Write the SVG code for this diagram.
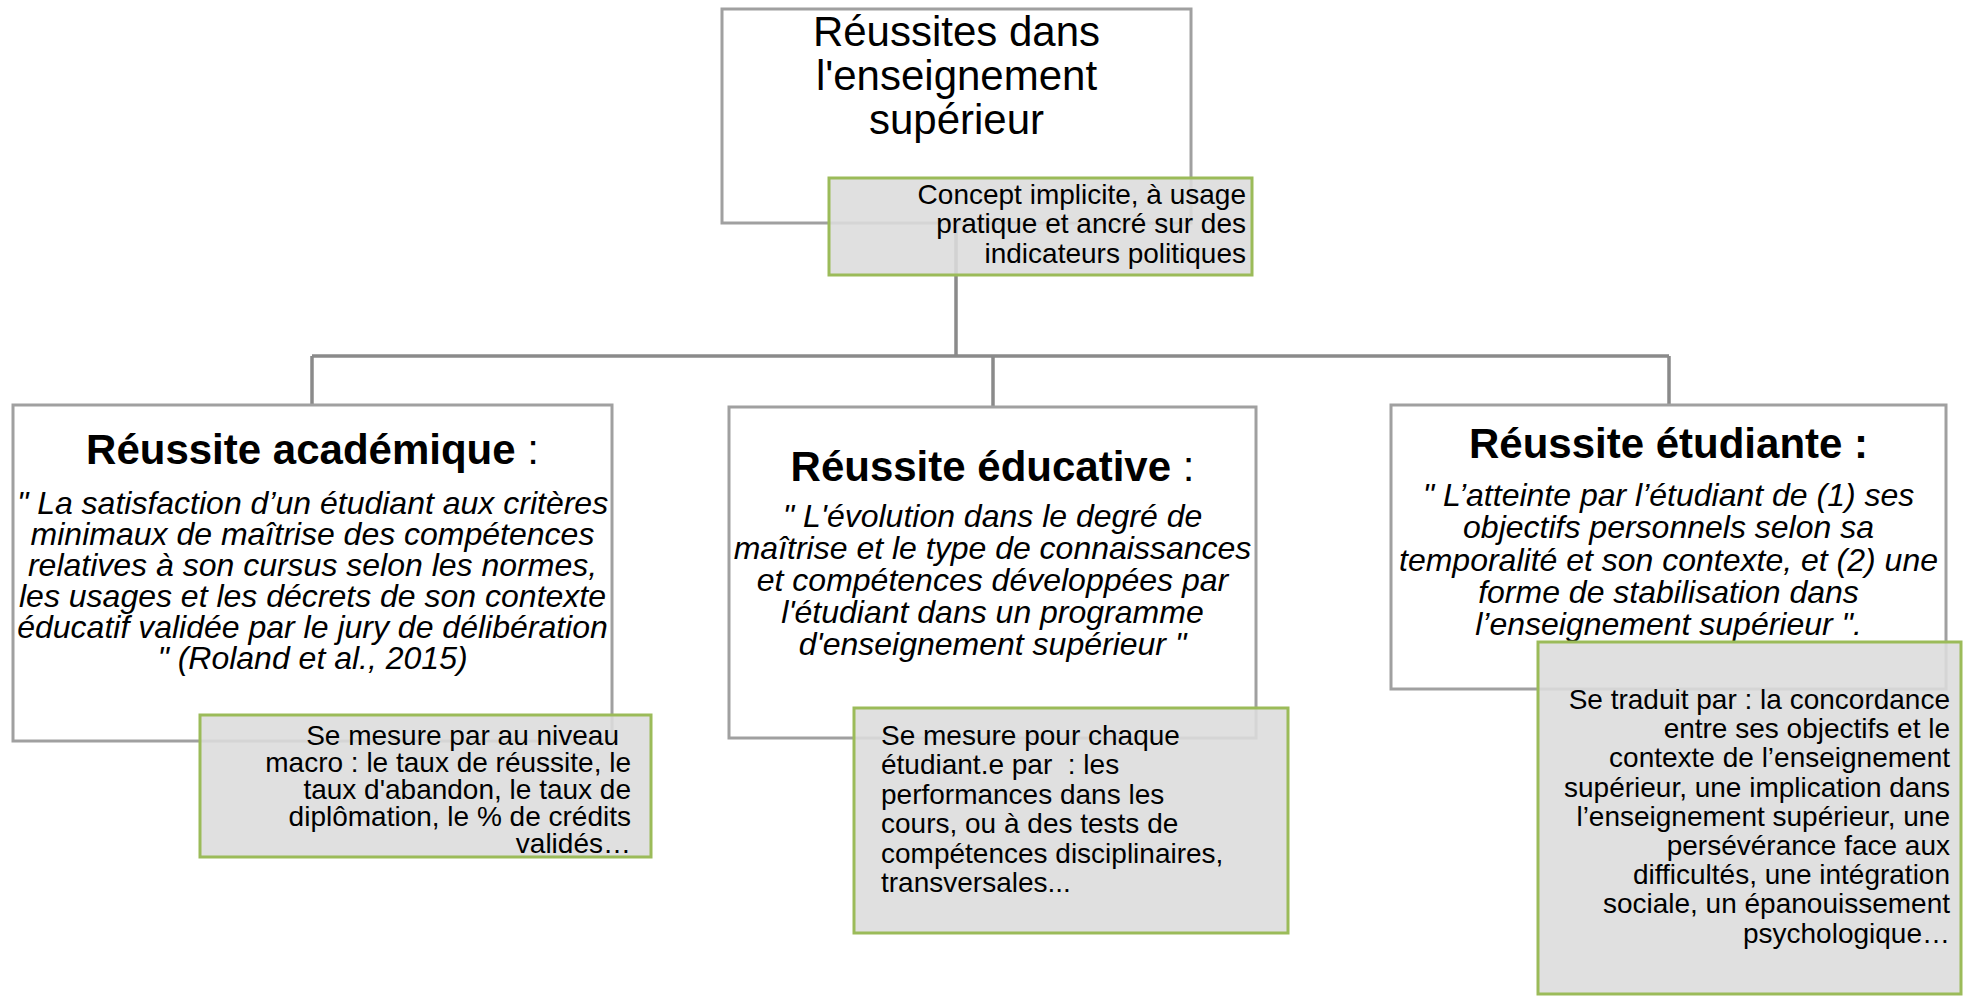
<svg xmlns="http://www.w3.org/2000/svg" width="1968" height="997" viewBox="0 0 1968 997">
<style>
.box{fill:#ffffff;stroke:#a0a0a0;stroke-width:3}
.note{fill:#dcdcdc;fill-opacity:0.88;stroke:#9bbb59;stroke-width:3}
.conn{fill:none;stroke:#8a8a8a;stroke-width:3.5}
text{font-family:"Liberation Sans",Arial,sans-serif;fill:#000}
.title{font-size:42px}
.head{font-size:42px;font-weight:bold}
.colon{font-weight:normal}
.quote{font-size:32px;font-style:italic}
.ntext{font-size:28px}
</style>
<rect width="1968" height="997" fill="#ffffff"/>
<g id="connectors">
<path class="conn" d="M956 223 V356 M312 356 H1669 M312 356 V405 M993 356 V407 M1669 356 V405"/>
</g>
<g id="node-root">
<rect class="box" x="722" y="9" width="469" height="214"/>
<text class="title" text-anchor="middle"><tspan x="956.5" y="46">Réussites dans</tspan><tspan x="956.5" y="90">l'enseignement</tspan><tspan x="956.5" y="134">supérieur</tspan></text>
</g>
<g id="note-root">
<rect class="note" x="829" y="178" width="423" height="97"/>
<text class="ntext" text-anchor="end"><tspan x="1246" y="204">Concept implicite, à usage</tspan><tspan x="1246" y="233">pratique et ancré sur des</tspan><tspan x="1246" y="263">indicateurs politiques</tspan></text>
</g>
<g id="node-academique">
<rect class="box" x="13" y="405" width="599" height="336"/>
<text class="head" x="312.5" y="464" text-anchor="middle">Réussite académique<tspan class="colon"> :</tspan></text>
<text class="quote" text-anchor="middle"><tspan x="312.5" y="514">" La satisfaction d’un étudiant aux critères</tspan><tspan x="312.5" y="545">minimaux de maîtrise des compétences</tspan><tspan x="312.5" y="576">relatives à son cursus selon les normes,</tspan><tspan x="312.5" y="607">les usages et les décrets de son contexte</tspan><tspan x="312.5" y="638">éducatif validée par le jury de délibération</tspan><tspan x="312.5" y="669">" (Roland et al., 2015)</tspan></text>
</g>
<g id="note-academique">
<rect class="note" x="200" y="715" width="451" height="142"/>
<text class="ntext" text-anchor="end"><tspan x="619" y="745">Se mesure par au niveau</tspan><tspan x="631" y="772">macro : le taux de réussite, le</tspan><tspan x="631" y="799">taux d'abandon, le taux de</tspan><tspan x="631" y="826">diplômation, le % de crédits</tspan><tspan x="631" y="853">validés…</tspan></text>
</g>
<g id="node-educative">
<rect class="box" x="729" y="407" width="527" height="331"/>
<text class="head" x="992.5" y="481" text-anchor="middle">Réussite éducative<tspan class="colon"> :</tspan></text>
<text class="quote" text-anchor="middle"><tspan x="992.5" y="527">" L'évolution dans le degré de</tspan><tspan x="992.5" y="559">maîtrise et le type de connaissances</tspan><tspan x="992.5" y="591">et compétences développées par</tspan><tspan x="992.5" y="623">l'étudiant dans un programme</tspan><tspan x="992.5" y="655">d'enseignement supérieur "</tspan></text>
</g>
<g id="note-educative">
<rect class="note" x="854" y="708" width="434" height="225"/>
<text class="ntext" xml:space="preserve"><tspan x="881" y="745">Se mesure pour chaque</tspan><tspan x="881" y="774">étudiant.e par  : les</tspan><tspan x="881" y="804">performances dans les</tspan><tspan x="881" y="833">cours, ou à des tests de</tspan><tspan x="881" y="863">compétences disciplinaires,</tspan><tspan x="881" y="892">transversales...</tspan></text>
</g>
<g id="node-etudiante">
<rect class="box" x="1391" y="405" width="555" height="284"/>
<text class="head" x="1668.5" y="458" text-anchor="middle">Réussite étudiante :</text>
<text class="quote" text-anchor="middle"><tspan x="1668.5" y="506">" L’atteinte par l’étudiant de (1) ses</tspan><tspan x="1668.5" y="538">objectifs personnels selon sa</tspan><tspan x="1668.5" y="571">temporalité et son contexte, et (2) une</tspan><tspan x="1668.5" y="603">forme de stabilisation dans</tspan><tspan x="1668.5" y="635">l’enseignement supérieur ".</tspan></text>
</g>
<g id="note-etudiante">
<rect class="note" x="1538" y="642" width="423" height="352"/>
<text class="ntext" text-anchor="end"><tspan x="1950" y="709">Se traduit par : la concordance</tspan><tspan x="1950" y="738">entre ses objectifs et le</tspan><tspan x="1950" y="767">contexte de l’enseignement</tspan><tspan x="1950" y="797">supérieur, une implication dans</tspan><tspan x="1950" y="826">l’enseignement supérieur, une</tspan><tspan x="1950" y="855">persévérance face aux</tspan><tspan x="1950" y="884">difficultés, une intégration</tspan><tspan x="1950" y="913">sociale, un épanouissement</tspan><tspan x="1950" y="943">psychologique…</tspan></text>
</g>
</svg>
